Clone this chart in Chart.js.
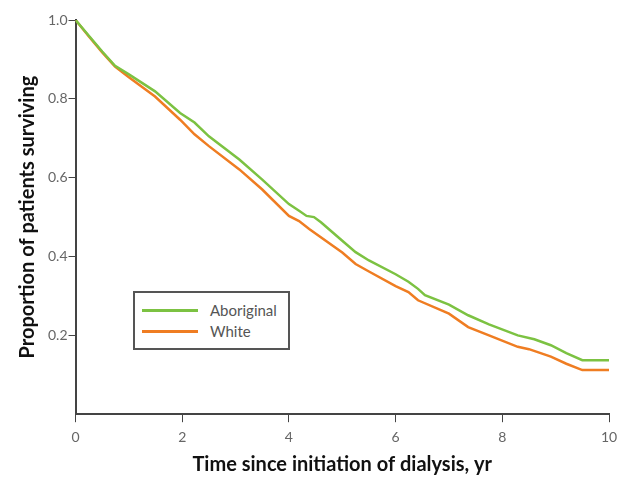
<!DOCTYPE html>
<html lang="en">
<head>
  <meta charset="UTF-8">
  <title>Survival on dialysis</title>
  <script src="https://cdn.jsdelivr.net/npm/chart.js"></script>
  <style>
    body {
      margin: 0;
      padding: 0;
      background: #fff;
    }
    #wrap {
      position: relative;
      width: 623px;
      height: 488px;
    }
    #legendBox {
      position: absolute;
      left: 133px;
      top: 291px;
      width: 153px;
      height: 55px;
      border: 2px solid #555;
      font-family: Lato, sans-serif;
      font-size: 15px;
      color: #555;
      background: #fff;
    }
    .row {
      position: absolute;
      left: 7px;
      display: flex;
      align-items: center;
    }
    .swatch {
      width: 56px;
      height: 3px;
      margin-right: 12px;
    }
  </style>
</head>
<body>

<div id="wrap">
  <canvas id="survChart" width="623" height="488"></canvas>
  <div id="legendBox"></div>
</div>

<script>
  // Kaplan-Meier curves (years, proportion surviving)
  const groupNames = ['Aboriginal', 'White'];
  const groupColors = ['#7cc242', '#ef7d22'];

  const timesAboriginal = [0, 0.25, 0.5, 0.74, 1.0, 1.49, 1.96, 2.23, 2.5, 3.07, 3.5, 4.0, 4.19, 4.33, 4.47, 4.6, 5.0, 5.25, 5.5, 6.0, 6.24, 6.42, 6.55, 7.0, 7.36, 7.75, 8.29, 8.6, 8.91, 9.2, 9.5, 10];
  const survAboriginal  = [1.0, 0.96, 0.92, 0.884, 0.862, 0.819, 0.764, 0.74, 0.705, 0.646, 0.595, 0.533, 0.516, 0.503, 0.50, 0.487, 0.44, 0.411, 0.39, 0.355, 0.336, 0.318, 0.302, 0.278, 0.251, 0.228, 0.20, 0.19, 0.175, 0.155, 0.137, 0.137];

  const timesWhite = [0, 0.25, 0.5, 0.74, 1.0, 1.49, 1.96, 2.23, 2.5, 3.07, 3.5, 4.0, 4.19, 4.38, 5.0, 5.25, 5.5, 6.0, 6.24, 6.42, 7.0, 7.36, 7.75, 8.29, 8.5, 8.91, 9.2, 9.5, 10];
  const survWhite  = [1.0, 0.958, 0.918, 0.882, 0.855, 0.806, 0.747, 0.71, 0.68, 0.621, 0.57, 0.503, 0.49, 0.47, 0.41, 0.381, 0.362, 0.325, 0.31, 0.289, 0.255, 0.221, 0.20, 0.171, 0.165, 0.146, 0.128, 0.112, 0.112];

  const xTicks = [0, 2, 4, 6, 8, 10];
  const yTicks = [0.2, 0.4, 0.6, 0.8, 1.0];

  const toPoints = (xs, ys) => xs.map((x, i) => ({ x: x, y: ys[i] }));

  const tickFont = { family: 'Lato, sans-serif', size: 14 };
  const titleFont = { family: 'Lato, sans-serif', size: 20, weight: 'bold' };

  new Chart(document.getElementById('survChart'), {
    type: 'line',
    data: {
      datasets: [
        {
          label: groupNames[0],
          data: toPoints(timesAboriginal, survAboriginal),
          borderColor: groupColors[0],
          borderWidth: 2.5,
          pointRadius: 0,
          tension: 0
        },
        {
          label: groupNames[1],
          data: toPoints(timesWhite, survWhite),
          borderColor: groupColors[1],
          borderWidth: 2.5,
          pointRadius: 0,
          tension: 0
        }
      ]
    },
    options: {
      responsive: false,
      animation: false,
      layout: { padding: { top: 20, right: 4, left: 12, bottom: 7 } },
      plugins: {
        legend: { display: false },
        tooltip: { enabled: false }
      },
      scales: {
        x: {
          type: 'linear',
          min: 0,
          max: 10,
          afterBuildTicks: axis => { axis.ticks = xTicks.map(v => ({ value: v })); },
          afterFit: axis => { axis.paddingRight = 14; },
          grid: { drawOnChartArea: false, drawTicks: true, tickLength: 8, color: '#444' },
          border: { display: true, color: '#444', width: 2 },
          ticks: { color: '#666', font: tickFont, padding: 7 },
          title: { display: true, text: 'Time since initiation of dialysis, yr', color: '#111', font: titleFont, padding: { top: 0 } }
        },
        y: {
          min: 0,
          max: 1.0,
          afterBuildTicks: axis => { axis.ticks = yTicks.map(v => ({ value: v })); },
          grid: { drawOnChartArea: false, drawTicks: true, tickLength: 7, color: '#444' },
          border: { display: true, color: '#444', width: 2 },
          ticks: { color: '#666', font: tickFont, padding: 1, callback: v => v.toFixed(1) },
          title: { display: true, text: 'Proportion of patients surviving', color: '#111', font: titleFont, padding: { bottom: 7 } }
        }
      }
    }
  });

  // legend drawn inside the plot, as in the figure
  const box = document.getElementById('legendBox');
  groupNames.forEach((name, i) => {
    const row = document.createElement('div');
    row.className = 'row';
    row.style.top = (i === 0 ? 8 : 29) + 'px';
    row.innerHTML = '<span class="swatch" style="background:' + groupColors[i] + '"></span>' + name;
    box.appendChild(row);
  });
</script>

</body>
</html>
